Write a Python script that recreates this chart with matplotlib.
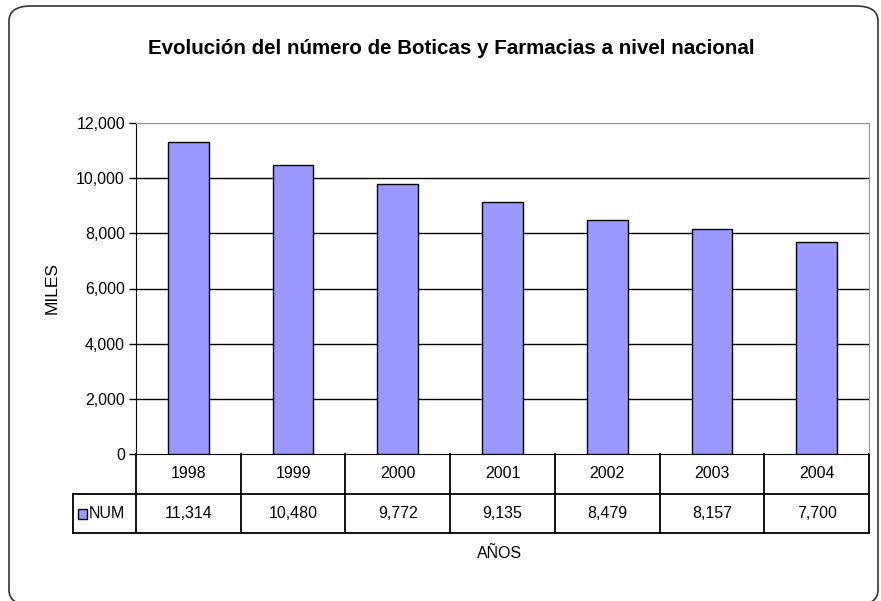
import matplotlib
matplotlib.use("Agg")
import matplotlib.pyplot as plt
import matplotlib.transforms as mtransforms
from matplotlib.patches import FancyBboxPatch, Rectangle
from matplotlib.lines import Line2D

years = ["1998", "1999", "2000", "2001", "2002", "2003", "2004"]
num = [11314, 10480, 9772, 9135, 8479, 8157, 7700]
yticks = [0, 2000, 4000, 6000, 8000, 10000, 12000]
series_name = "NUM"
title = "Evolución del número de Boticas y Farmacias a nivel nacional"

W, H = 881, 601
fig = plt.figure(figsize=(W / 100, H / 100), dpi=100)
fig.patch.set_facecolor("white")

font = ["Liberation Sans", "DejaVu Sans"]
tfont = ["Liberation Sans", "DejaVu Sans"]
fs = 11.5

# rounded outer frame (bottom edge runs just past the image)
frame = FancyBboxPatch((9 / W, -4 / H), (878 - 9) / W, (595 + 4) / H,
                       boxstyle="round,pad=0,rounding_size=0.025",
                       transform=fig.transFigure, facecolor="none",
                       edgecolor="#333333", linewidth=1.2, zorder=-1)
fig.patches.append(frame)

px_l, px_r, px_t, px_b = 136, 869, 123, 454
ax = fig.add_axes([px_l / W, (H - px_b) / H, (px_r - px_l) / W, (px_b - px_t) / H])
ax.set_facecolor("white")

x = list(range(len(years)))
ax.bar(x, num, width=0.39, color="#9999FF", edgecolor="black", linewidth=1, zorder=3)
ax.set_xlim(-0.5, len(years) - 0.5)
ax.set_ylim(0, 12000)
ax.set_yticks(yticks)
ax.set_yticklabels([f"{v:,}" for v in yticks], fontfamily=font, fontsize=fs)
ax.tick_params(axis="y", length=5, width=1, color="black", pad=3)
ax.set_xticks([])
for v in yticks[1:-1]:
    ax.axhline(v, color="black", linewidth=1, zorder=1)
ax.axhline(12000, color="#999999", linewidth=1, zorder=1)
ax.spines["left"].set_color("black")
ax.spines["bottom"].set_color("black")
ax.spines["top"].set_color("#999999")
ax.spines["right"].set_color("#999999")

ax.set_ylabel("MILES", fontfamily=font, fontsize=12.5, labelpad=12)

# data table
tr = mtransforms.blended_transform_factory(ax.transData, ax.transAxes)
ah = px_b - px_t
r1 = -(494 - px_b) / ah
r2 = -(533 - px_b) / ah
leg_left = -0.5 - (px_l - 73) / ((px_r - px_l) / len(years))
n = len(years)
lkw = dict(color="black", linewidth=1.3, transform=tr, clip_on=False)
ax.add_line(Line2D([leg_left, n - 0.5], [r1, r1], **lkw))
ax.add_line(Line2D([leg_left, n - 0.5], [r2, r2], **lkw))
for i in range(n + 1):
    ax.add_line(Line2D([i - 0.5, i - 0.5], [0, r2], **lkw))
ax.add_line(Line2D([leg_left, leg_left], [r1, r2], **lkw))
for i, (yr, v) in enumerate(zip(years, num)):
    ax.text(i, r1 / 2, yr, transform=tr, ha="center", va="center",
            fontfamily=font, fontsize=fs)
    ax.text(i, (r1 + r2) / 2, f"{v:,}", transform=tr, ha="center", va="center",
            fontfamily=font, fontsize=fs)
cw = (px_r - px_l) / n
sq_x = leg_left + 5 / cw
sq_w = 9 / cw
sq_h = 10 / ah
ymid = (r1 + r2) / 2
ax.add_patch(Rectangle((sq_x, ymid - sq_h / 2), sq_w, sq_h, facecolor="#9999FF",
                       edgecolor="black", linewidth=1, transform=tr, clip_on=False))
ax.text(sq_x + sq_w + 2 / cw, ymid, series_name, transform=tr, ha="left", va="center",
        fontfamily=font, fontsize=fs)

fig.text(500 / W, 1 - 553 / H, "AÑOS", ha="center", va="center",
         fontfamily=font, fontsize=fs)
fig.text(451 / W, 1 - 49 / H, title, ha="center", va="center",
         fontfamily=tfont, fontsize=14.8, fontweight="bold")

fig.savefig("out.png", dpi=100)
